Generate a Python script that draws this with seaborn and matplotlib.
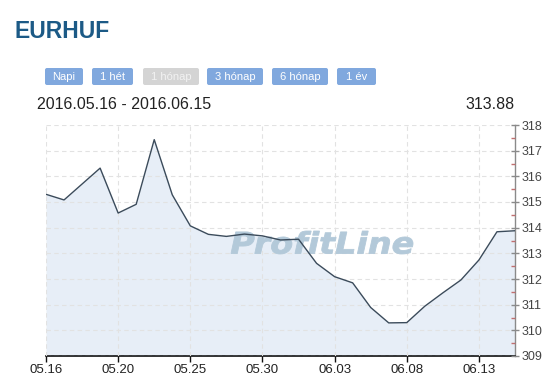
import numpy as np
import pandas as pd
import matplotlib
matplotlib.use("Agg")
import matplotlib.pyplot as plt
import seaborn as sns
from matplotlib.textpath import TextPath
from matplotlib.font_manager import FontProperties
from matplotlib.patches import PathPatch, FancyBboxPatch
from matplotlib.transforms import Affine2D

# ---- data ----
dates = ["05.16", "05.17", "05.18", "05.19", "05.20", "05.21", "05.23", "05.24",
         "05.25", "05.26", "05.27", "05.28", "05.30", "05.31", "06.01", "06.02",
         "06.03", "06.04", "06.06", "06.07", "06.08", "06.09", "06.10", "06.11",
         "06.13", "06.14", "06.15"]
rates = [315.30, 315.08, 315.70, 316.32, 314.57, 314.91, 317.43, 315.28,
         314.07, 313.74, 313.66, 313.75, 313.68, 313.52, 313.55, 312.61,
         312.09, 311.85, 310.89, 310.29, 310.30, 310.94, 311.46, 311.96,
         312.74, 313.84, 313.88]
tick_dates = ["05.16", "05.20", "05.25", "05.30", "06.03", "06.08", "06.13"]
y_ticks = [309, 310, 311, 312, 313, 314, 315, 316, 317, 318]
buttons = ["Napi", "1 hét", "1 hónap", "3 hónap", "6 hónap", "1 év"]
active_button = "1 hónap"
title = "EURHUF"
range_label = "2016.05.16 - 2016.06.15"
last_value = "313.88"

df = pd.DataFrame({"date": dates, "rate": rates})
df["pos"] = np.arange(len(df))

sns.set_style("white")
plt.rcParams["font.family"] = ["Liberation Sans", "DejaVu Sans"]

W, H = 552, 383
fig = plt.figure(figsize=(W / 100, H / 100), dpi=100)
ax = fig.add_axes([46 / W, 27 / H, 469 / W, 231 / H])

ax.fill_between(df["pos"], df["rate"], 309, color="#e7eef7", zorder=1, lw=0)
sns.lineplot(data=df, x="pos", y="rate", ax=ax, color="#3b4b5b", lw=1.0, zorder=4)

ax.set_xlim(0, len(df) - 1)
ax.set_ylim(min(y_ticks), max(y_ticks))
xt = [dates.index(d) for d in tick_dates]
ax.set_xticks(xt)
ax.set_xticklabels(tick_dates)
ax.set_yticks(y_ticks)
ax.set_yticks([v + 0.5 for v in y_ticks[:-1]], minor=True)
ax.yaxis.tick_right()
ax.set_xlabel("")
ax.set_ylabel("")

ax.grid(True, which="major", linestyle=(0, (4, 3)), color="#e2e2e2", lw=0.8, zorder=2)
ax.set_axisbelow(False)
for gl in ax.get_xgridlines() + ax.get_ygridlines():
    gl.set_zorder(2)

for s in ["top", "left"]:
    ax.spines[s].set_visible(False)
ax.spines["right"].set_color("#8a8a8a")
ax.spines["right"].set_linewidth(1.0)
ax.spines["bottom"].set_color("#111111")
ax.spines["bottom"].set_linewidth(1.2)

ax.tick_params(axis="x", direction="out", length=4, width=1, color="#111111",
               labelsize=9.5, labelcolor="#222222", pad=2, bottom=True)
ax.tick_params(axis="y", which="major", direction="inout", length=6, width=1,
               color="#8a8a8a", labelsize=9, labelcolor="#444444", pad=2,
               right=True, left=False)
ax.tick_params(axis="y", which="minor", direction="in", length=3, width=1,
               color="#c07070", right=True, left=False)

# watermark
fp = FontProperties(family="DejaVu Sans", weight="bold", style="oblique")
tp = TextPath((0, 0), "ProfitLine", size=100, prop=fp)
bb = tp.get_extents()
x0, x1, ybot, ytop = 231, 413, H - 254, H - 231
tr = (Affine2D().translate(-bb.x0, -bb.y0)
      .scale((x1 - x0) / bb.width, (ytop - ybot) / bb.height)
      .translate(x0, ybot).scale(1 / 100) + fig.dpi_scale_trans)
wm = PathPatch(tp, transform=tr, facecolor="#b3c9d9", edgecolor="#b3c9d9",
               lw=0.6, zorder=3, clip_on=False)
ax.add_artist(wm)

# header
fig.text(15 / W, 1 - 31 / H, title, fontsize=16.5, fontweight="bold",
         color="#1c5a86", va="center", ha="left")

btn_x = [(45, 83), (92, 133), (143, 199), (207, 263), (272, 328), (337, 376)]
for name, (bx0, bx1) in zip(buttons, btn_x):
    active = name == active_button
    fc = "#d4d4d4" if active else "#80a8de"
    tc = "#f2f2f2" if active else "white"
    patch = FancyBboxPatch((bx0 / 100, (H - 85) / 100), (bx1 - bx0) / 100, 17 / 100,
                           boxstyle="round,pad=0,rounding_size=0.02",
                           transform=fig.dpi_scale_trans, facecolor=fc,
                           edgecolor="none")
    fig.patches.append(patch)
    fig.text((bx0 + bx1) / 2 / W, 1 - 76.5 / H, name, fontsize=8, color=tc,
             ha="center", va="center")

fig.text(37 / W, 1 - 104.5 / H, range_label, fontsize=11.5, color="#222222",
         ha="left", va="center")
fig.text(515 / W, 1 - 104.5 / H, last_value, fontsize=11.5, color="#222222",
         ha="right", va="center")

fig.savefig("out.png", dpi=100)
